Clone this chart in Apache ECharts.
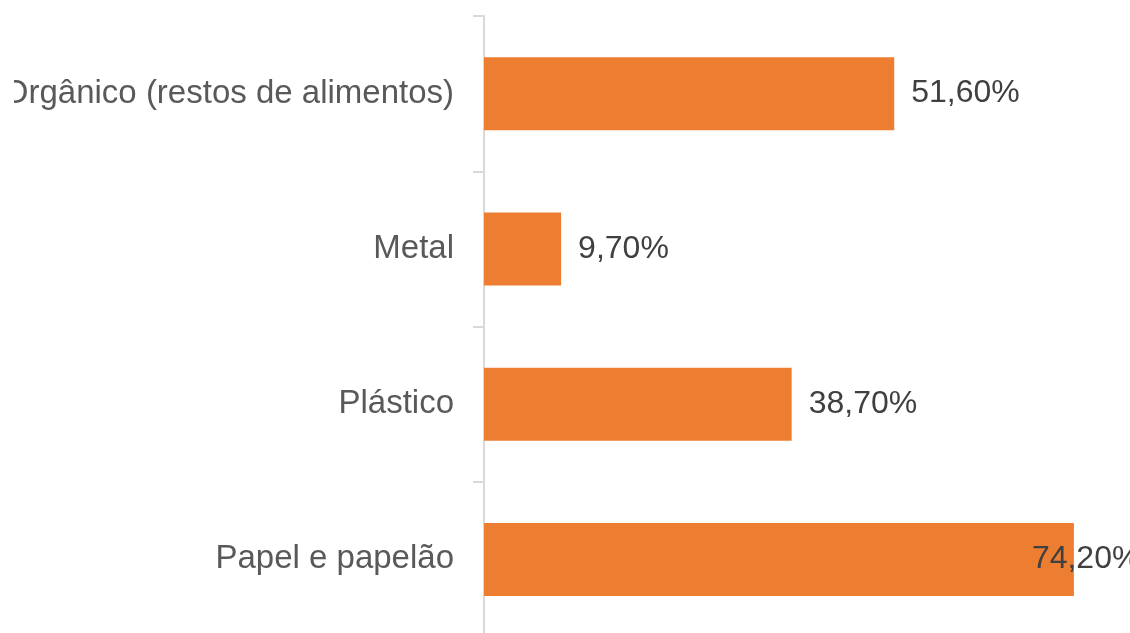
<!DOCTYPE html>
<html>
<head>
<meta charset="utf-8">
<script src="https://cdn.jsdelivr.net/npm/echarts@6/dist/echarts.min.js"></script>
<style>
html,body{margin:0;padding:0;background:#fff;}
#chart{width:1130px;height:633px;}
</style>
</head>
<body>
<div id="chart"></div>
<script>
const categories = ['Orgânico (restos de alimentos)', 'Metal', 'Plástico', 'Papel e papelão'];
const values = [51.6, 9.7, 38.7, 74.2];

const chart = echarts.init(document.getElementById('chart'), null, {renderer: 'canvas'});
const FONT = '"Liberation Sans", Arial, sans-serif';

const seriesData = values.map(function (v, i) {
  const item = {value: v};
  if (i === values.length - 1) {
    item.label = {offset: [-59, 0]};
  }
  return item;
});

chart.setOption({
  animation: false,
  backgroundColor: '#ffffff',
  grid: {left: 484, top: 16, width: 795, height: 621, containLabel: false, outerBoundsMode: 'none'},
  xAxis: {
    type: 'value', min: 0, max: 100, show: false,
    splitLine: {show: false}
  },
  yAxis: {
    type: 'category', data: categories, inverse: true,
    axisLine: {show: true, lineStyle: {color: '#D9D9D9', width: 2}},
    axisTick: {show: true, length: 11, lineStyle: {color: '#D9D9D9', width: 2}},
    axisLabel: {color: '#595959', fontSize: 33, fontFamily: FONT, margin: 30},
    splitLine: {show: false}
  },
  series: [{
    type: 'bar',
    data: seriesData,
    barWidth: 73,
    itemStyle: {color: '#ED7D31'},
    label: {
      show: true, position: 'right', distance: 17,
      color: '#404040', fontSize: 32, fontFamily: FONT,
      formatter: function (p) { return p.value.toFixed(2).replace('.', ',') + '%'; }
    }
  }],
  graphic: [{
    type: 'rect', z: 100,
    shape: {x: 0, y: 60, width: 14, height: 70},
    style: {fill: '#ffffff'}
  }]
});
</script>
</body>
</html>
